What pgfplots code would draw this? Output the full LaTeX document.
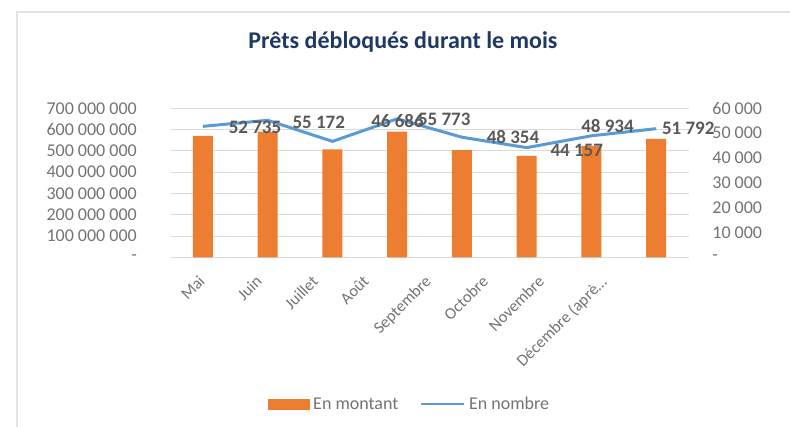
\documentclass[border=0pt]{standalone}
\usepackage{pgfplots}
\usepackage{pgfplotstable}
\pgfplotsset{compat=1.18}
\usepackage{fontspec}
\setmainfont{Carlito}
\definecolor{barorange}{HTML}{ED7D31}
\definecolor{lineblue}{HTML}{5B9BD5}
\definecolor{gridgray}{HTML}{D9D9D9}
\definecolor{ticktext}{HTML}{737373}
\definecolor{labtext}{HTML}{595959}
\definecolor{titleblue}{HTML}{1F3864}
\definecolor{framegray}{HTML}{E3E3E3}

\pgfplotstableread[col sep=comma]{
x,m
0,571000000
1,590000000
2,507000000
3,590000000
4,503000000
5,477000000
6,523000000
7,556000000
}\montant

\pgfplotstableread[col sep=comma]{
x,n,lab,dx,dy
0,52735,52 735,52,-0.6
1,55172,55 172,51,-1.7
2,46686,46 686,65,20
3,55773,55 773,47,-1
4,48354,48 354,51,0
5,44157,44 157,50,-2.7
6,48934,48 934,16,10
7,51792,51 792,32,0
}\nombre

\begin{document}
\begin{tikzpicture}
\path[use as bounding box] (-170.6pt,-169.7pt) rectangle (619.4pt,257.3pt);
\draw[framegray, line width=1.2pt] (-153.6pt,-169.7pt) -- (-153.6pt,245.3pt) -- (619.4pt,245.3pt);
\node[font=\fontsize{24}{28}\selectfont\bfseries, text=titleblue] at (232.4pt,215.6pt) {Prêts débloqués durant le mois};

\begin{axis}[
  scale only axis,
  width=518pt, height=149pt,
  xmin=-0.5, xmax=7.5,
  ymin=0, ymax=700000000,
  scaled y ticks=false,
  axis x line*=bottom,
  axis y line*=left,
  x axis line style={draw=gridgray, line width=0.8pt, -},
  y axis line style={draw=none},
  major tick length=0pt,
  xtick={-0.065,0.816,1.682,2.47,3.428,4.31,5.175,6.133},
  xticklabels={Mai,Juin,Juillet,Août,Septembre,Octobre,Novembre,Décembre (aprè…},
  xticklabel style={yshift=-17pt, xshift=-1pt, rotate=45, anchor=north east, inner sep=0pt,
     font=\fontsize{16.5}{18}\selectfont, text=ticktext},
  ytick={0,100000000,200000000,300000000,400000000,500000000,600000000,700000000},
  yticklabels={-\hspace{6pt},100 000 000,200 000 000,300 000 000,400 000 000,500 000 000,600 000 000,700 000 000},
  yticklabel style={anchor=east, inner sep=0pt, xshift=-33.6pt,
     font=\fontsize{18}{20}\selectfont, text=ticktext},
  ymajorgrids,
  major grid style={draw=gridgray, line width=0.8pt},
  ybar, bar width=20pt,
]
\addplot[fill=barorange, draw=none] table[x=x, y=m] \montant;
\end{axis}

\begin{axis}[
  scale only axis,
  width=518pt, height=149pt,
  xmin=-0.5, xmax=7.5,
  ymin=0, ymax=60000,
  scaled y ticks=false,
  hide x axis,
  axis y line*=right,
  y axis line style={draw=none},
  major tick length=0pt,
  ytick={0,10000,20000,30000,40000,50000,60000},
  yticklabels={-,10 000,20 000,30 000,40 000,50 000,60 000},
  yticklabel style={anchor=west, inner sep=0pt, xshift=23.6pt,
     font=\fontsize{18}{20}\selectfont, text=ticktext},
  legend style={at={(0.4602,-0.9846)}, anchor=center, draw=none, fill=none,
     font=\fontsize{18}{20}\selectfont, text=ticktext,
     legend columns=2,
     /tikz/every even column/.append style={column sep=20pt},
     nodes={inner sep=1pt}},
  legend cell align=left,
]
\addlegendimage{legend image code/.code={\fill[barorange] (0pt,-5pt) rectangle (41pt,5pt);}}
\addlegendentry{\hspace{3pt}En montant}
\addplot[lineblue, line width=3pt, line join=round, mark=none,
   point meta=explicit symbolic,
   nodes near coords,
   visualization depends on={\thisrow{dx}\as\labdx},
   visualization depends on={\thisrow{dy}\as\labdy},
   every node near coord/.append style={anchor=center, xshift=\labdx pt, yshift=\labdy pt,
      font=\fontsize{19}{21}\selectfont\bfseries, text=labtext},
   legend image code/.code={\draw[lineblue, line width=2.6pt] (0pt,0pt) -- (43pt,0pt);}
] table[x=x, y=n, meta=lab] \nombre;
\addlegendentry{\hspace{3pt}En nombre}
\end{axis}
\end{tikzpicture}
\end{document}
